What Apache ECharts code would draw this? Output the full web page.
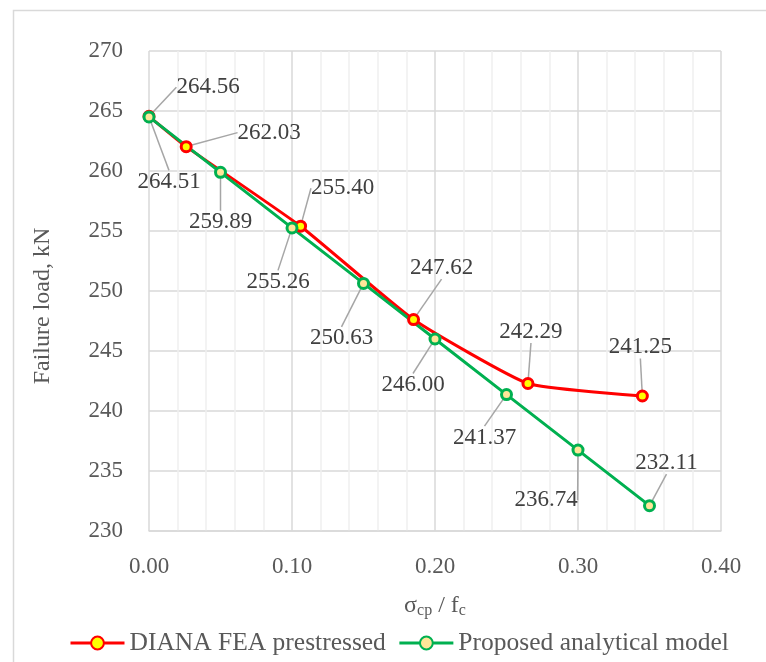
<!DOCTYPE html>
<html>
<head>
<meta charset="utf-8">
<script src="https://cdn.jsdelivr.net/npm/echarts@6/dist/echarts.min.js"></script>
<style>html,body{margin:0;padding:0;background:#fff}#c{width:766px;height:662px}</style>
</head>
<body>
<div id="c"></div>
<script>
// ---- data ----
const seriesNames = ['DIANA FEA prestressed', 'Proposed analytical model'];
const dianaX = [0, 0.026, 0.106, 0.185, 0.265, 0.345];
const dianaY = [264.56, 262.03, 255.40, 247.62, 242.29, 241.25];
const modelX = [0, 0.05, 0.10, 0.15, 0.20, 0.25, 0.30, 0.35];
const modelY = [264.51, 259.89, 255.26, 250.63, 246.00, 241.37, 236.74, 232.11];
const xAxisTitle = 'σcp / fc';
const yAxisTitle = 'Failure load, kN';

// ---- label layout (offsets of label centre from point, px) ----
const dianaLabelOffsets = [[59,-29],[83,-14],[42,-38],[28,-52],[3,-52],[-2,-49]];
const modelLabelOffsets = [[20,65],[0,50],[-14,54],[-22,55],[-22,46],[-22,43],[-32,50],[17,-43]];

const FONT = '"Liberation Serif", "Times New Roman", serif';
const chart = echarts.init(document.getElementById('c'), null, {renderer: 'canvas'});

function pairs(xs, ys) { return xs.map((x, i) => [x, ys[i]]); }

function mkSeries(name, xs, ys, color, fill, offsets, smooth) {
  return {
    name: name,
    type: 'line',
    data: pairs(xs, ys),
    smooth: smooth,
    symbol: 'circle',
    symbolSize: 10,
    lineStyle: {color: color, width: 3},
    itemStyle: {color: fill, borderColor: color, borderWidth: 3},
    label: {
      show: true,
      position: 'inside',
      fontFamily: FONT,
      fontSize: 23,
      color: '#404040',
      formatter: p => p.value[1].toFixed(2)
    },
    labelLine: {show: true, lineStyle: {color: '#A6A6A6', width: 1.5}},
    labelLayout: p => ({dx: offsets[p.dataIndex][0], dy: offsets[p.dataIndex][1]}),
    emphasis: {disabled: true},
    animation: false
  };
}

const option = {
  backgroundColor: '#fff',
  animation: false,
  grid: {left: 149, right: 45, top: 51, bottom: 131},
  xAxis: {
    type: 'value', min: 0, max: 0.4, interval: 0.1,
    axisLine: {show: true, lineStyle: {color: '#D9D9D9', width: 1.5}},
    axisTick: {show: false},
    axisLabel: {fontFamily: FONT, fontSize: 23, color: '#595959', margin: 24,
      formatter: v => v.toFixed(2)},
    splitLine: {show: true, lineStyle: {color: '#D9D9D9', width: 1.5}},
    minorTick: {show: false, splitNumber: 5},
    minorSplitLine: {show: true, lineStyle: {color: '#F0F0F0', width: 1.5}},
    name: '{a|σ}{s|cp}{a| / f}{s|c}',
    nameLocation: 'middle',
    nameGap: 62,
    nameTextStyle: {
      rich: {
        a: {fontFamily: FONT, fontSize: 24, color: '#595959'},
        s: {fontFamily: FONT, fontSize: 16, color: '#595959', padding: [10, 0, 0, 0]}
      }
    }
  },
  yAxis: {
    type: 'value', min: 230, max: 270, interval: 5,
    axisLine: {show: false},
    axisTick: {show: false},
    axisLabel: {fontFamily: FONT, fontSize: 23, color: '#595959', margin: 26},
    splitLine: {show: true, lineStyle: {color: '#D9D9D9', width: 1.5}}
  },
  legend: {
    data: seriesNames,
    left: 64, top: 625,
    itemWidth: 54, itemHeight: 16, itemGap: 12,
    lineStyle: {width: 3},
    textStyle: {fontFamily: FONT, fontSize: 25.5, color: '#595959'}
  },
  graphic: [
    {type: 'rect', shape: {x: 13.5, y: 10.5, width: 800, height: 700},
     style: {fill: 'none', stroke: '#D9D9D9', lineWidth: 1.5}, silent: true, z: -10},
    {type: 'text', x: 43, y: 306, rotation: Math.PI / 2,
     style: {text: yAxisTitle, fontFamily: FONT, fontSize: 24, fill: '#595959',
       align: 'center', verticalAlign: 'middle'}}
  ],
  series: [
    mkSeries(seriesNames[0], dianaX, dianaY, '#FF0000', '#FFFF00', dianaLabelOffsets, 0.15),
    mkSeries(seriesNames[1], modelX, modelY, '#00B050', '#FFE699', modelLabelOffsets, false)
  ]
};
chart.setOption(option);
</script>
</body>
</html>
